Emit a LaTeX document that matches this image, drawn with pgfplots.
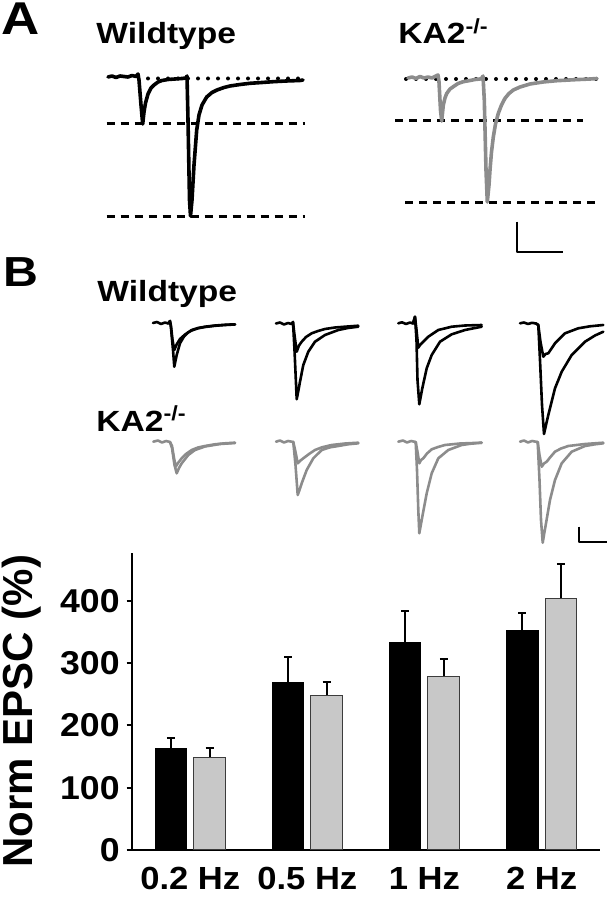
\documentclass[border=0pt]{standalone}
\usepackage{pgfplots}
\pgfplotsset{compat=1.18}
\usepackage{fontspec}
\setmainfont{Liberation Sans}
\newfontfamily\lbl{Liberation Sans}[FakeStretch=1.15]
\newfontfamily\tck{Liberation Sans}[FakeStretch=1.08]
\definecolor{trgray}{RGB}{140,140,140}
\definecolor{bargray}{RGB}{200,200,200}
\definecolor{baredge}{RGB}{60,60,60}
\begin{document}
\begin{tikzpicture}
\path[use as bounding box] (0,0) rectangle (307pt,450pt);
% ---------------- overlay axis in pixel coordinates (traces) ----------------
\begin{axis}[at={(0,0)}, anchor=south west, scale only axis,
  width=307pt, height=450pt, xmin=0, xmax=614, ymin=0, ymax=900,
  y dir=reverse, hide axis, clip=false,
  every axis plot/.append style={line join=round, line cap=round}]
% labels
\node[anchor=base west, inner sep=0] at (axis cs:1,35) {\lbl\bfseries\fontsize{23}{26}\selectfont A};
\node[anchor=base west, inner sep=0] at (axis cs:96,43.5) {\lbl\bfseries\fontsize{14.6}{16}\selectfont Wildtype};
\node[anchor=base west, inner sep=0] at (axis cs:398,43.5) {\lbl\bfseries\fontsize{14.6}{16}\selectfont KA2\textsuperscript{-/-}};
\node[anchor=base west, inner sep=0] at (axis cs:3,286) {\lbl\bfseries\fontsize{21}{24}\selectfont B};
\node[anchor=base west, inner sep=0] at (axis cs:97,301.7) {\lbl\bfseries\fontsize{14.6}{16}\selectfont Wildtype};
\node[anchor=base west, inner sep=0] at (axis cs:96,431) {\lbl\bfseries\fontsize{14.6}{16}\selectfont KA2\textsuperscript{-/-}};
% ---- Panel A reference lines ----
\addplot[black, line width=2pt, dash pattern=on 0pt off 5pt, line cap=round] coordinates {(148,78.5) (303,78.5)};
\addplot[black, line width=1.5pt, dash pattern=on 4.2pt off 2.8pt, line cap=butt] coordinates {(106.7,124) (305,124)};
\addplot[black, line width=1.5pt, dash pattern=on 4.2pt off 2.8pt, line cap=butt] coordinates {(106.7,216) (305,216)};
\addplot[black, line width=2pt, dash pattern=on 0pt off 5pt, line cap=round] coordinates {(406,79) (597,79)};
\addplot[black, line width=1.5pt, dash pattern=on 4.2pt off 2.8pt, line cap=butt] coordinates {(395,121) (583,121)};
\addplot[black, line width=1.5pt, dash pattern=on 4.2pt off 2.8pt, line cap=butt] coordinates {(405,202) (597,202)};
% ---- Panel A traces ----
\addplot[black, line width=1.8pt] coordinates {
(108,77) (112,76) (116,77.5) (120,76) (124,76.5) (128,77) (132,75.5) (136,76.5) (138,74) (139,80) (141,105) (142.7,124) (144,112) (145.5,103) (148,94) (151,88) (154,85) (158,82) (162,80.5) (168,79.5) (175,79) (182,78.5) (186,78) (187,76) (188,120) (189.5,200) (190.5,216) (192,200) (194,165) (196.7,130) (199,115) (202,105) (206.7,97) (212,92.5) (217,90) (224,87.5) (230,86) (240,84.5) (250,83.3) (262,82.5) (273,81.7) (286,81) (300,80.5) (303,80)};
\addplot[trgray, line width=1.8pt] coordinates {
(408,78) (412,77) (416,78.5) (420,76.5) (424,78) (428,77) (432,78) (436,76) (438,75) (439,82) (440.5,110) (441.7,121) (443.3,105) (445,98) (446.7,93.5) (450,89) (453.3,86.7) (458,83.5) (463.3,81.7) (470,80.5) (475,79.5) (480,79) (482,78) (483,76) (484.3,100) (486,170) (487.3,202) (489,185) (490,170) (491.5,152) (493.3,137) (495.5,124) (498.3,113.3) (501.5,105) (505,98.3) (509,93.5) (513.3,90) (520,87) (530,84) (543,82) (556.7,80.7) (573,79.8) (590,79) (597,78.5)};
% scale bar A
\addplot[black, line width=1pt, line cap=butt] coordinates {(516.7,221.7) (516.7,251.7) (563.3,251.7)};
% ---- Panel B wildtype traces ----
\addplot[black, line width=1.3pt] coordinates {
(153,323) (157,322) (161,324) (165,322.5) (168.3,323.5) (170,321) (171,326) (172.5,340) (174.3,350) (176.7,344.3) (180,339) (185,334.5) (191.7,330) (198,328) (205,326.7) (215,325.5) (225,324.8) (235,324.3)};
\addplot[black, line width=1.3pt] coordinates {
(168.3,323.5) (170,321) (171,328) (173,350) (174.3,366.7) (176.7,355) (180,343.3) (184,336.5) (188,332.5) (191.7,330.5) (198,328.3) (205,327) (215,325.8) (225,325) (235,324.5)};
\addplot[black, line width=1.3pt] coordinates {
(276,323.5) (280,322.5) (284,324.5) (288,323) (291.7,324) (293,322) (294.5,335) (296.7,351.7) (299,345.5) (301.7,341.7) (306,337) (311.7,333.3) (318,331) (325,329) (335,327.5) (345,326.7) (358.3,325.7)};
\addplot[black, line width=1.3pt] coordinates {
(291.7,324) (293,322) (294.5,350) (296.7,399.3) (298.5,390) (300,381.7) (303.3,365) (308.3,351.7) (315,341.7) (325,335) (338.3,330) (348,328) (358.3,326.7)};
\addplot[black, line width=1.3pt] coordinates {
(398.3,323.3) (402,322.3) (406,324) (410,322.5) (413,323.5) (415,316.7) (416.5,330) (418.3,347.7) (420,345) (421.7,343.3) (428.3,336.7) (438.3,330) (451.7,326.7) (465,325.5) (481.7,325)};
\addplot[black, line width=1.3pt] coordinates {
(413,323.5) (415,316.7) (416.5,340) (417.5,380) (419.3,404.3) (422.3,388.3) (426.7,368.3) (431.7,355) (440,341.7) (451.7,334.3) (465,330) (481.7,326.7)};
\addplot[black, line width=1.3pt] coordinates {
(520,323.3) (524,322.5) (528,324) (532,322.8) (536,323.5) (538.3,325) (540.5,342) (543.3,356.7) (545.5,354) (548.3,353.3) (555,343.3) (565,333.3) (578.3,328.3) (590,326.3) (603.3,325)};
\addplot[black, line width=1.3pt] coordinates {
(536,323.5) (538.3,325) (540,360) (542,405) (544,434) (546,425) (548.3,415) (555,388.3) (561.7,371.7) (571.7,355) (585,341.7) (595,335.5) (603.3,331.7)};
% ---- Panel B KA2 traces ----
\addplot[trgray, line width=1.3pt] coordinates {
(153.3,441.7) (158,440.5) (162,442.5) (166,441) (170,442) (172,446) (174,458) (175.7,466.7) (178,463) (181.7,458.3) (186,454) (191.7,450) (198,447.5) (205,446) (215,444.3) (225,443.3) (235,442.7)};
\addplot[trgray, line width=1.3pt] coordinates {
(170,442) (172,448) (174.5,465) (176.7,473.3) (179,468) (181.7,463.3) (188.3,455) (195,450) (205,446.5) (220,444) (235,443)};
\addplot[trgray, line width=1.3pt] coordinates {
(276,441.7) (280,440.5) (284,442.5) (288,441) (293.3,442) (295.5,452) (297.7,463.3) (300.5,460.5) (303.3,458.3) (309,454) (315,450) (322,447.3) (331.7,445) (345,443.5) (358.3,442.7)};
\addplot[trgray, line width=1.3pt] coordinates {
(293.3,442) (295.5,465) (297.7,495) (299.5,490) (301.7,483.3) (306.7,470) (313.3,458.3) (321.7,450) (330,447.3) (338.3,446) (348,444.3) (358.3,443.3)};
\addplot[trgray, line width=1.3pt] coordinates {
(398.3,441.7) (403,440.5) (407,442.5) (411,441) (415.7,442) (417.5,452) (419.3,463.3) (421,460) (423.3,458.3) (427,453.5) (431.7,449.3) (438,447) (445,445) (460,443.5) (481.7,442.7)};
\addplot[trgray, line width=1.3pt] coordinates {
(415.7,442) (417,470) (418.3,510) (419.3,533.3) (420.8,525) (422.3,516.7) (426.7,493.3) (431.7,473.3) (438.3,458.3) (448.3,450) (461.7,445) (470,443.8) (481.7,442.7)};
\addplot[trgray, line width=1.3pt] coordinates {
(520,441.7) (524,440.5) (528,442.5) (532,441) (537.7,442) (539.5,455) (541.7,466.7) (544,463.5) (546.7,461.7) (550,457.5) (555,451.7) (561,448.5) (568.3,446) (585,444) (603.3,442.7)};
\addplot[trgray, line width=1.3pt] coordinates {
(537.7,442) (539.5,480) (541,520) (542.7,542.7) (544.3,533) (546,523.3) (550,500) (555,480) (561.7,463.3) (571.7,451.7) (585,446) (595,444.3) (603.3,443.3)};
% scale bar B
\addplot[black, line width=1pt, line cap=butt] coordinates {(579,526.7) (579,541.7) (607,541.7)};
\end{axis}
% ---------------- bar chart ----------------
\begin{axis}[at={(65.85pt,25pt)}, anchor=south west, scale only axis,
  width=234.2pt, height=148.3pt,
  xmin=-0.5, xmax=3.5, ymin=0, ymax=476,
  axis x line=bottom, axis y line=left,
  axis line style={line width=1pt, -},
  xtick={0,1,2,3}, xticklabels={0.2 Hz,0.5 Hz,1 Hz,2 Hz},
  x tick style={draw=none},
  ytick={0,100,200,300,400},
  y tick style={black, line width=1pt},
  tick align=outside, major tick length=2.5pt,
  /pgf/number format/assume math mode=true,
  yticklabel style={font=\tck\bfseries\fontsize{16.5}{18}\selectfont},
  xticklabel style={font=\tck\bfseries\fontsize{16}{18}\selectfont, yshift=-2.5pt},
  ylabel={Norm EPSC (\%)},
  ylabel style={font=\bfseries\fontsize{21}{24}\selectfont, at={(axis description cs:-0.236,0.468)}, anchor=center},
  ybar, bar width=0.27,
  error bars/y dir=plus, error bars/y explicit,
  error bars/error bar style={line width=1pt, black},
  error bars/error mark options={rotate=90, mark size=2pt, line width=1pt, black},
]
\addplot[fill=black, draw=black, line width=0.5pt, bar shift=-0.165] coordinates {
(0,163) +- (0,16)
(1,269) +- (0,41)
(2,333) +- (0,51)
(3,352) +- (0,29)};
\addplot[fill=bargray, draw=baredge, line width=0.5pt, bar shift=0.165] coordinates {
(0,149) +- (0,14)
(1,248) +- (0,22)
(2,279) +- (0,28)
(3,404) +- (0,55)};
\end{axis}
\end{tikzpicture}
\end{document}
